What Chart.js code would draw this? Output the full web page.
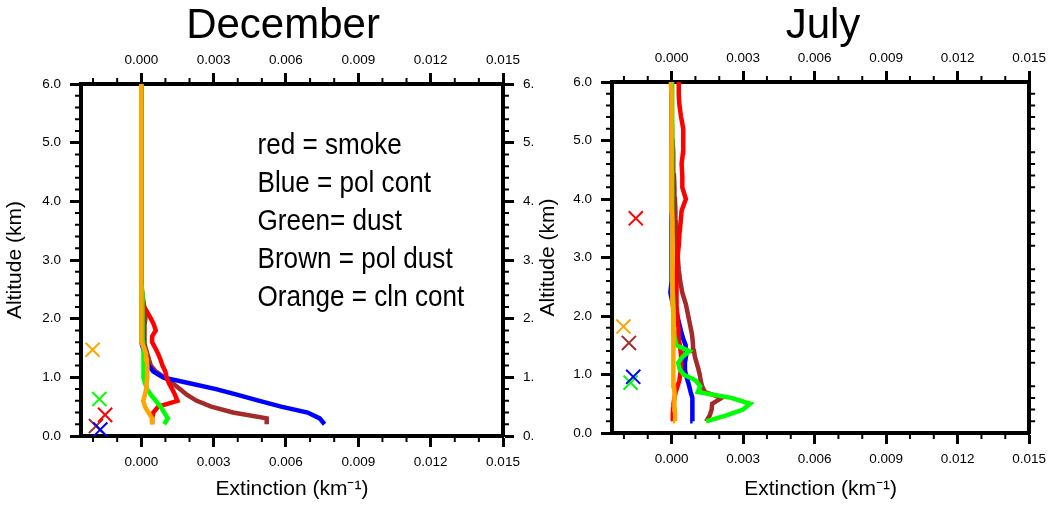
<!DOCTYPE html>
<html>
<head>
<meta charset="utf-8">
<title>Aerosol extinction profiles</title>
<script src="https://cdn.jsdelivr.net/npm/chart.js@4/dist/chart.umd.min.js"></script>
<style>
  html, body { margin: 0; padding: 0; background: #fff; }
  #page { position: relative; width: 1053px; height: 505px; overflow: hidden; }
  .panel { position: absolute; top: 0; height: 505px; }
  #decPanel { left: 0; width: 545px; }
  #julPanel { left: 527px; width: 526px; }
</style>
</head>
<body>
<div id="page">
  <div class="panel" id="decPanel"><canvas id="decChart"></canvas></div>
  <div class="panel" id="julPanel"><canvas id="julChart"></canvas></div>
</div>
<script>
// model levels (km) shared by every profile
const altitude = [0.2, 0.3, 0.4, 0.5, 0.6, 0.7, 0.8, 0.9, 1.0, 1.1, 1.2, 1.3, 1.4, 1.5, 1.6, 1.7, 1.8, 1.9,
  2.0, 2.2, 2.4, 2.6, 2.8, 3.0, 3.2, 3.4, 3.6, 3.8, 4.0, 4.2, 4.4, 4.6, 4.8, 5.0, 5.2, 5.4, 5.6, 5.8, 6.0];

// December extinction (km-1) per aerosol type
const decSmoke = [0.00045, 0.00045, 0.0005, 0.0007, 0.0015, 0.0014, 0.00128, 0.00115, 0.00105, 0.001, 0.00088,
  0.0008, 0.0007, 0.00058, 0.00045, 0.00045, 0.0006, 0.00052, 0.0004, 0.00012, 0,
  0, 0, 0, 0, 0, 0, 0, 0, 0, 0, 0, 0, 0, 0, 0, 0, 0, 0];
const decPolCont = [0.0076, 0.0074, 0.0069, 0.0058, 0.0049, 0.004, 0.0031, 0.002, 0.0009, 0.0005, 0.0003,
  0.0002, 0.00014, 0.00007, 0, 0, 0, 0, 0, 0, 0,
  0, 0, 0, 0, 0, 0, 0, 0, 0, 0, 0, 0, 0, 0, 0, 0, 0, 0];
const decDust = [0.00095, 0.0011, 0.00095, 0.0008, 0.0006, 0.0004, 0.00025, 0.00015, 0.0001, 0.0001, 0.0001,
  0.0001, 0.00008, 0.00008, 0.00007, 0.00007, 0.00006, 0.00006, 0.00005, 0.00005, 0.00003,
  0, 0, 0, 0, 0, 0, 0, 0, 0, 0, 0, 0, 0, 0, 0, 0, 0, 0];
const decPolDust = [0.0052, 0.0052, 0.0038, 0.0029, 0.0023, 0.0019, 0.0016, 0.0013, 0.00095, 0.0006, 0.0004,
  0.00032, 0.00025, 0.00018, 0.00012, 0.00012, 0.00013, 0.00015, 0.00017, 0.00012, 0.00005,
  0, 0, 0, 0, 0, 0, 0, 0, 0, 0, 0, 0, 0, 0, 0, 0, 0, 0];
const decClnCont = [0.00045, 0.00045, 0.0003, 0.00015, 0.00008, 0.00015, 0.0002, 0.00022, 0.00025, 0.00025, 0.00025,
  0.00023, 0.0002, 0.00012, 0, 0, 0, 0, 0, 0, 0,
  0, 0, 0, 0, 0, 0, 0, 0, 0, 0, 0, 0, 0, 0, 0, 0, 0, 0];

// July extinction (km-1) per aerosol type
const julSmoke = [0.00005, 0.00005, 0.00006, 0.00008, 0.00012, 0.00017, 0.00025, 0.00033, 0.00036, 0.0004, 0.0004,
  0.0004, 0.00038, 0.00035, 0.00031, 0.0003, 0.00028, 0.00025, 0.00025, 0.0002, 0.0002,
  0.0002, 0.00022, 0.00025, 0.0003, 0.00033, 0.00038, 0.00042, 0.0006, 0.00045, 0.00045,
  0.00042, 0.00048, 0.0005, 0.00048, 0.0004, 0.00033, 0.0003, 0.0003];
const julPolCont = [0.00088, 0.00088, 0.00088, 0.00087, 0.00086, 0.0008, 0.00074, 0.00067, 0.0006, 0.00055, 0.00056,
  0.0006, 0.0006, 0.00058, 0.0005, 0.00042, 0.00036, 0.0003, 0.00024, 0.00005, -0.00005,
  0, 0, 0, 0, 0, 0, 0, 0, 0, 0, 0, 0, 0, 0, 0, 0, 0, 0];
const julDust = [0.00145, 0.0023, 0.003, 0.0033, 0.0025, 0.0011, 0.0012, 0.001, 0.0005, 0.00033, 0.00028,
  0.00045, 0.00075, 0.0002, 0.00015, 0.0001, 0.0001, 0.00008, 0.00008, 0.00006, 0.00005,
  0.00004, 0.00004, 0.00004, 0.00003, 0.00003, 0.00003, 0.00003, 0.00003, 0.00002, 0.00002,
  0.00002, 0.00002, 0.00002, 0.00002, 0.00002, 0.00002, 0.00002, 0.00002];
const julPolDust = [0.00145, 0.0016, 0.00168, 0.0017, 0.0021, 0.0014, 0.00128, 0.00122, 0.00118, 0.00112, 0.00105,
  0.00098, 0.00094, 0.0009, 0.00088, 0.00085, 0.0008, 0.00075, 0.0007, 0.0006, 0.00045,
  0.00036, 0.0003, 0.00026, 0.00023, 0.0002, 0.00018, 0.00016, 0.00014, 0.00012, 0.0001,
  0.00008, 0.00006, 0.00004, 0.00002, 0, 0, 0, 0];
const julClnCont = [0.00016, 0.00015, 0.00014, 0.00013, 0.00012, 0.00011, 0.0001, 0.0001, 0.00009, 0.00009, 0.00008,
  0.00008, 0.00008, 0.00007, 0.00007, 0.00007, 0.00006, 0.00006, 0.00006, 0.00005, 0.00005,
  0.00004, 0.00004, 0.00003, 0.00003, 0.00002, 0.00002, 0.00001, 0.00001, 0.00001, 0,
  0, 0, -0.00001, -0.00001, -0.00002, -0.00002, -0.00002, -0.00003];

// cross markers, one per type: smoke, pol cont, dust, pol dust, cln cont
const decMarkerExt = [-0.0015, -0.0017, -0.00174, -0.00188, -0.00202];
const decMarkerAlt = [0.36, 0.11, 0.63, 0.17, 1.47];
const julMarkerExt = [-0.0015, -0.00161, -0.00172, -0.00179, -0.00202];
const julMarkerAlt = [3.67, 0.96, 0.86, 1.54, 1.82];

// tick values
const extTicks = [0, 0.003, 0.006, 0.009, 0.012, 0.015];
const altTicks = [0, 1, 2, 3, 4, 5, 6];

const typeNames = ['smoke', 'pol cont', 'dust', 'pol dust', 'cln cont'];
const typeColors = ['#ff0000', '#0000ff', '#00ff00', '#a52a2a', '#ffa500'];
const drawOrder = [2, 3, 1, 4, 0]; // orange on top, brown underneath

const noteLines = ['red = smoke', 'Blue = pol cont', 'Green= dust', 'Brown = pol dust', 'Orange = cln cont'];

Chart.defaults.font.family = '"Liberation Sans", Arial, Helvetica, sans-serif';
Chart.defaults.color = '#000';

// short outward ticks between the labelled ones
const minorTicks = {
  id: 'minorTicks',
  afterDraw(chart) {
    const ctx = chart.ctx;
    ctx.save();
    ctx.strokeStyle = '#000';
    ctx.lineWidth = 2;
    ctx.beginPath();
    Object.values(chart.scales).forEach(s => {
      const pos = s.options.position;
      if (s.isHorizontal()) {
        for (let k = Math.ceil(s.min / 0.001); k <= Math.floor(s.max / 0.001 + 1e-6); k++) {
          if (k % 3 === 0) continue;
          const p = s.getPixelForValue(k * 0.001);
          const y0 = pos === 'bottom' ? s.top : s.bottom;
          ctx.moveTo(p, y0);
          ctx.lineTo(p, pos === 'bottom' ? y0 + 6 : y0 - 6);
        }
      } else {
        for (let k = 0; k <= 30; k++) {
          if (k % 5 === 0) continue;
          const p = s.getPixelForValue(k * 0.2);
          const x0 = pos === 'left' ? s.right : s.left;
          ctx.moveTo(x0, p);
          ctx.lineTo(pos === 'left' ? x0 - 6 : x0 + 6, p);
        }
      }
    });
    ctx.stroke();
    ctx.restore();
  }
};

// month title and the colour key text
const panelText = {
  id: 'panelText',
  afterDraw(chart, args, opts) {
    const { ctx, scales } = chart;
    ctx.save();
    ctx.fillStyle = '#000';
    ctx.textAlign = 'center';
    ctx.textBaseline = 'alphabetic';
    ctx.font = '42px "Liberation Sans", Arial, sans-serif';
    ctx.fillText(opts.title, opts.titleX, 38);
    if (opts.notes) {
      const x = scales.x.getPixelForValue(0.00482);
      const y = scales.y.getPixelForValue(4.8);
      ctx.textAlign = 'left';
      ctx.font = '30px "Liberation Sans", Arial, sans-serif';
      opts.notes.forEach((line, i) => {
        ctx.save();
        ctx.translate(x, y + i * 38);
        ctx.scale(0.87, 1);
        ctx.fillText(line, 0, 0);
        ctx.restore();
      });
    }
    ctx.restore();
  }
};

function profile(i, ext) {
  return {
    label: typeNames[i],
    order: drawOrder[i],
    showLine: true,
    borderColor: typeColors[i],
    borderWidth: 4.5,
    pointRadius: 0,
    data: ext.map((v, j) => ({ x: v, y: altitude[j] }))
  };
}

function markers(ext, alt) {
  return ext.map((v, i) => ({
    label: typeNames[i] + ' mark',
    order: -1,
    showLine: false,
    pointStyle: 'crossRot',
    pointRadius: 10,
    pointBorderWidth: 2,
    pointBorderColor: typeColors[i],
    pointBackgroundColor: typeColors[i],
    data: [{ x: v, y: alt[i] }]
  }));
}

function axisScales(box) {
  const tickFont = { size: 13.5 };
  const frame = { display: true, width: 4, color: '#000' };
  const grid = { drawOnChartArea: false, drawTicks: true, tickLength: 11, tickWidth: 3, tickColor: '#000' };
  const extAxis = (position, size) => ({
    type: 'linear',
    position,
    min: -0.0025,
    max: 0.015,
    afterBuildTicks: s => { s.ticks = extTicks.map(v => ({ value: v })); },
    afterFit: s => { s.height = size; },
    ticks: { callback: v => v.toFixed(3), font: tickFont, padding: position === 'top' ? 5 : 7, maxRotation: 0, autoSkip: false },
    grid,
    border: frame
  });
  const altAxis = (position, size, fmt) => ({
    type: 'linear',
    position,
    min: 0,
    max: 6,
    afterBuildTicks: s => { s.ticks = altTicks.map(v => ({ value: v })); },
    afterFit: s => { s.width = size; },
    ticks: { display: !!fmt, callback: fmt, font: tickFont, padding: 9 },
    grid,
    border: frame
  });
  const x = extAxis('bottom', box.bottom);
  x.title = { display: true, text: 'Extinction (km⁻¹)', font: { size: 21 }, padding: { top: 0, bottom: 3 } };
  const y = altAxis('left', box.left, v => v.toFixed(1));
  y.title = { display: true, text: 'Altitude (km)', font: { size: 21 }, padding: { top: box.titlePad, bottom: 0 } };
  return {
    x,
    xTop: extAxis('top', box.top),
    y,
    yRight: altAxis('right', box.right, box.rightLabels ? v => v.toFixed(0) + '.' : null)
  };
}

function makePanel(canvasId, profiles, markExt, markAlt, box, text) {
  return new Chart(document.getElementById(canvasId), {
    type: 'scatter',
    data: { datasets: profiles.map((ext, i) => profile(i, ext)).concat(markers(markExt, markAlt)) },
    options: {
      responsive: true,
      maintainAspectRatio: false,
      animation: false,
      events: [],
      layout: { padding: 0 },
      scales: axisScales(box),
      plugins: {
        legend: { display: false },
        tooltip: { enabled: false },
        title: { display: false },
        panelText: text
      }
    },
    plugins: [minorTicks, panelText]
  });
}

makePanel('decChart',
  [decSmoke, decPolCont, decDust, decPolDust, decClnCont],
  decMarkerExt, decMarkerAlt,
  { left: 81, right: 42, top: 84, bottom: 69, titlePad: 2.5, rightLabels: true },
  { title: 'December', titleX: 283, notes: noteLines });

makePanel('julChart',
  [julSmoke, julPolCont, julDust, julPolDust, julClnCont],
  julMarkerExt, julMarkerAlt,
  { left: 85, right: 21, top: 82, bottom: 72, titlePad: 9, rightLabels: false },
  { title: 'July', titleX: 296, notes: null });
</script>
</body>
</html>
